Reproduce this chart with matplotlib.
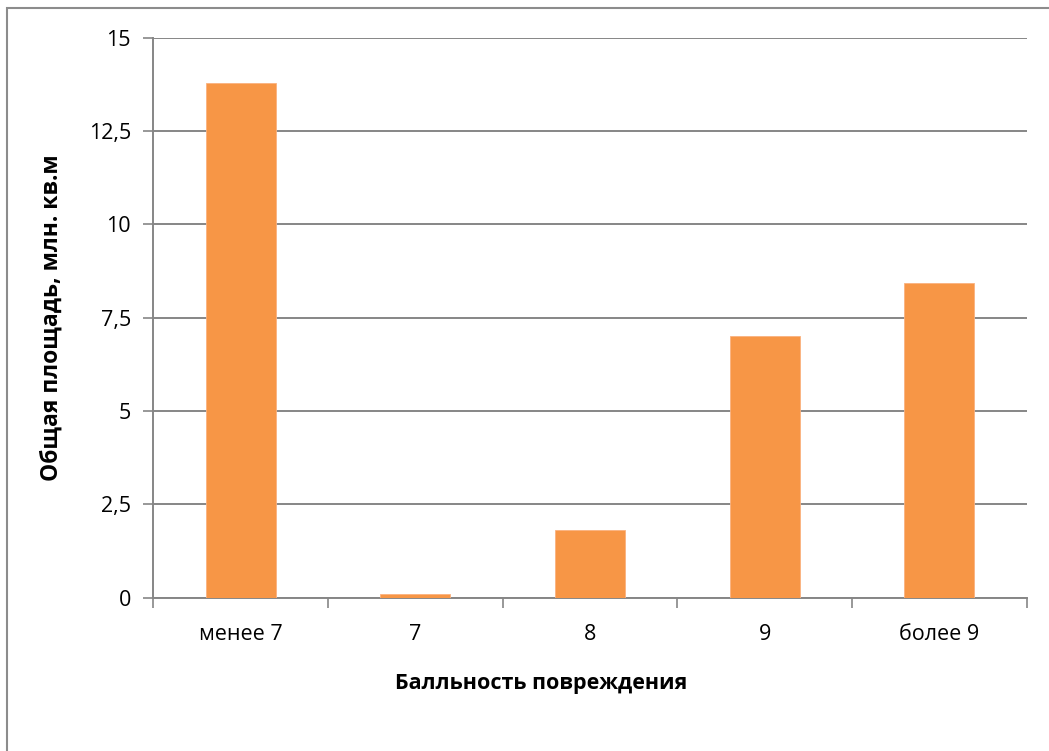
import matplotlib
matplotlib.use("Agg")
import matplotlib.pyplot as plt
from matplotlib.patches import Rectangle
import numpy as np

# данные
categories = ["менее 7", "7", "8", "9", "более 9"]
area = [13.8, 0.09, 1.81, 7.01, 8.44]
yticks = [0, 2.5, 5, 7.5, 10, 12.5, 15]
ytick_labels = ["0", "2,5", "5", "7,5", "10", "12,5", "15"]

plt.rcParams["font.family"] = ["Open Sans", "DejaVu Sans"]

fig = plt.figure(figsize=(10.49, 7.51), dpi=100)
ax = fig.add_axes([0.1461, 0.2041, 0.8327, 0.7457])

# рамка вокруг диаграммы
fig.patches.append(Rectangle((6.5 / 1049, -0.1), 1.2, 1.1 - 8.5 / 751,
                             transform=fig.transFigure, fill=False,
                             edgecolor="#8c8c8c", linewidth=1.5))

x = np.arange(len(categories))
ax.bar(x, area, width=0.4, color="#F79646", edgecolor="#FAB27F", linewidth=0.6, zorder=3)

ax.set_xlim(-0.5, len(categories) - 0.5)
ax.set_ylim(0, 15)
ax.set_yticks(yticks)
ax.set_yticklabels(ytick_labels, fontsize=15.5)
ax.set_xticks(x)
ax.set_xticklabels(categories, fontsize=15.5)
ax.set_xticks(np.arange(-0.5, len(categories)), minor=True)

ax.yaxis.grid(True, color="#868686", linewidth=1.4, zorder=0)
ax.tick_params(axis="y", direction="out", length=7, width=1.2, color="#868686", pad=9)
ax.tick_params(axis="x", which="major", length=0, pad=19)
ax.tick_params(axis="x", which="minor", direction="out", length=7, width=1.2, color="#868686")

for s in ["top", "right"]:
    ax.spines[s].set_visible(False)
for s in ["left", "bottom"]:
    ax.spines[s].set_color("#868686")
    ax.spines[s].set_linewidth(1.4)

ax.set_xlabel("Балльность повреждения", fontsize=15.5, fontweight="bold")
ax.xaxis.set_label_coords(0.444, -0.135)
ax.set_ylabel("Общая площадь, млн. кв.м", fontsize=16.5, fontweight="bold", labelpad=18)

fig.savefig("out.png", dpi=100)
